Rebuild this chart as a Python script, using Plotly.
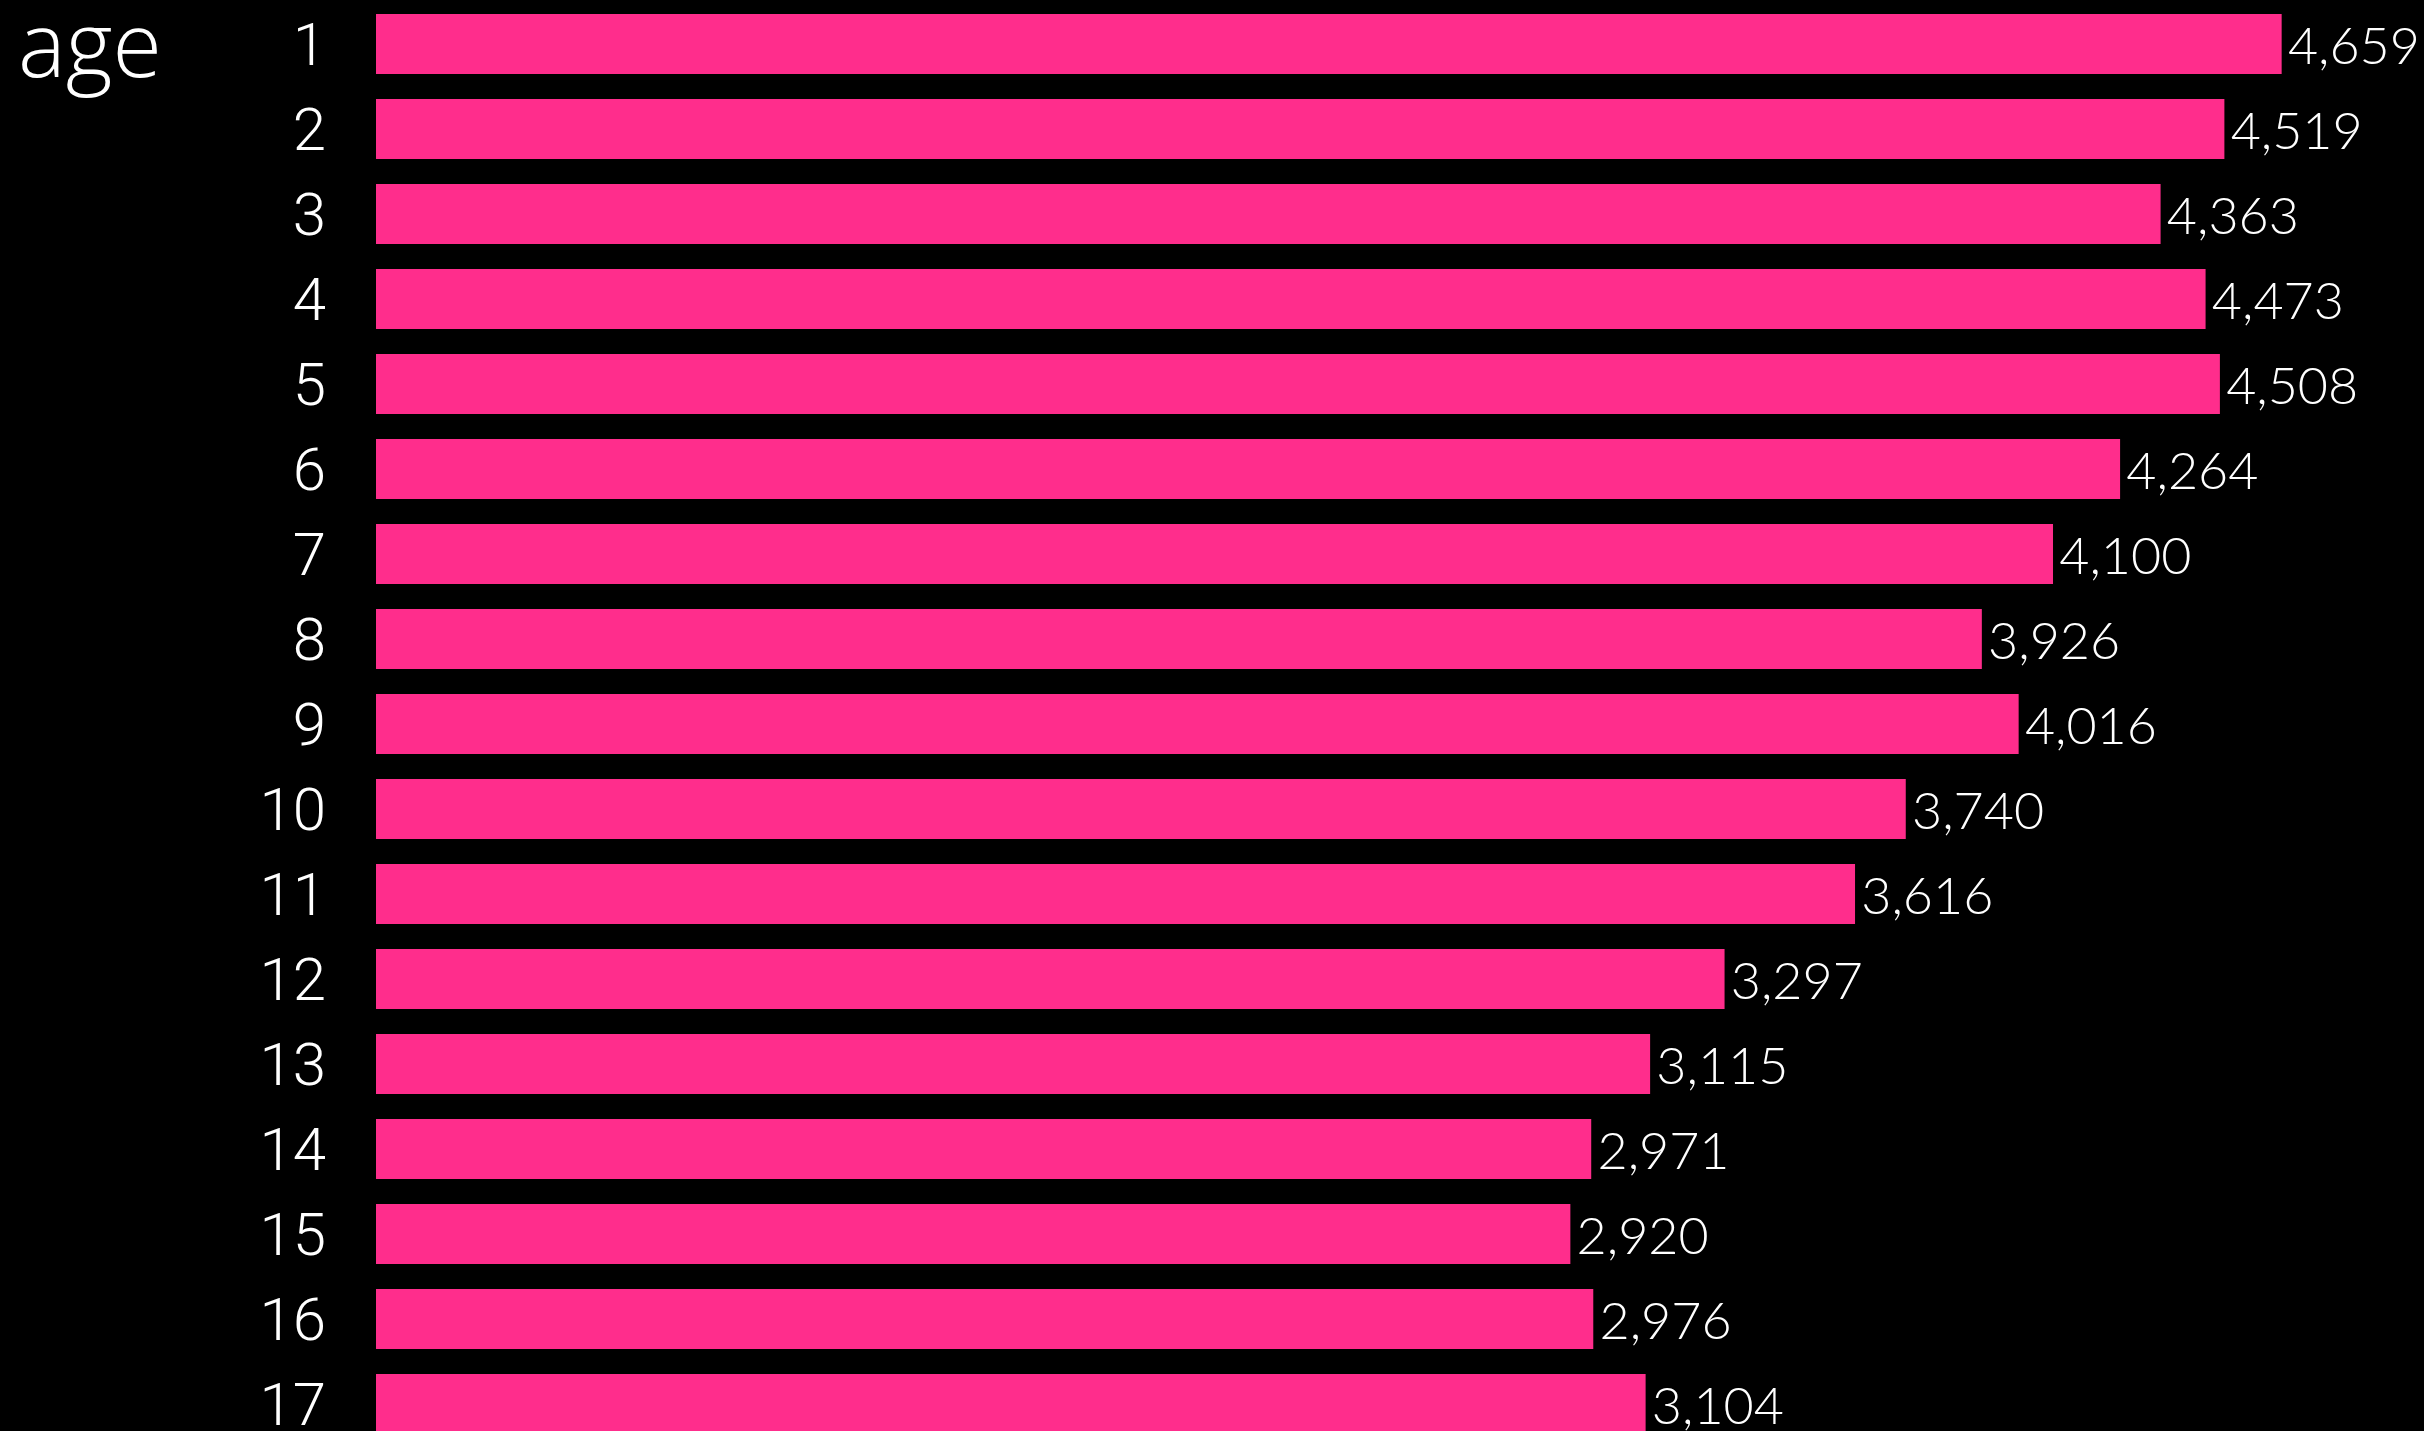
import plotly.graph_objects as go

ages = [str(i) for i in range(1, 18)]
counts = [4659, 4519, 4363, 4473, 4508, 4264, 4100, 3926, 4016, 3740,
          3616, 3297, 3115, 2971, 2920, 2976, 3104]

W, H = 2424, 1431
PINK = "#FF2D8C"

fig = go.Figure(go.Bar(
    x=counts, y=ages, orientation="h",
    marker=dict(color=PINK, line=dict(width=0)),
    width=0.706,
    texttemplate="\u200a%{x:,}",
    textposition="outside",
    constraintext="none",
    cliponaxis=False,
    textfont=dict(family="Lato", size=52, color="white", weight=300),
    hoverinfo="skip",
))

fig.update_layout(
    width=W, height=H,
    paper_bgcolor="black", plot_bgcolor="black",
    margin=dict(l=376, r=0, t=0, b=0, autoexpand=False),
    showlegend=False,
    title=dict(text="age", xref="container", yref="container",
               x=18 / W, xanchor="left", y=1 - 14 / H, yanchor="top",
               font=dict(family="Open Sans", size=90, color="white", weight=300),
               pad=dict(t=0, b=0, l=0, r=0)),
    xaxis=dict(range=[0, 5007], showgrid=False, zeroline=False, automargin=False,
               showticklabels=False, showline=False, ticks=""),
    yaxis=dict(range=[16.318, -0.5176], showgrid=False, zeroline=False,
               showline=False, ticks="", ticklabelstandoff=49, automargin=False,
               tickfont=dict(family="Roboto", size=60, color="white", weight=300)),
)

fig.write_html(
    "out.html",
    config={"displayModeBar": False},
    post_script="document.body.style.margin='0';document.body.style.background='black';",
)
